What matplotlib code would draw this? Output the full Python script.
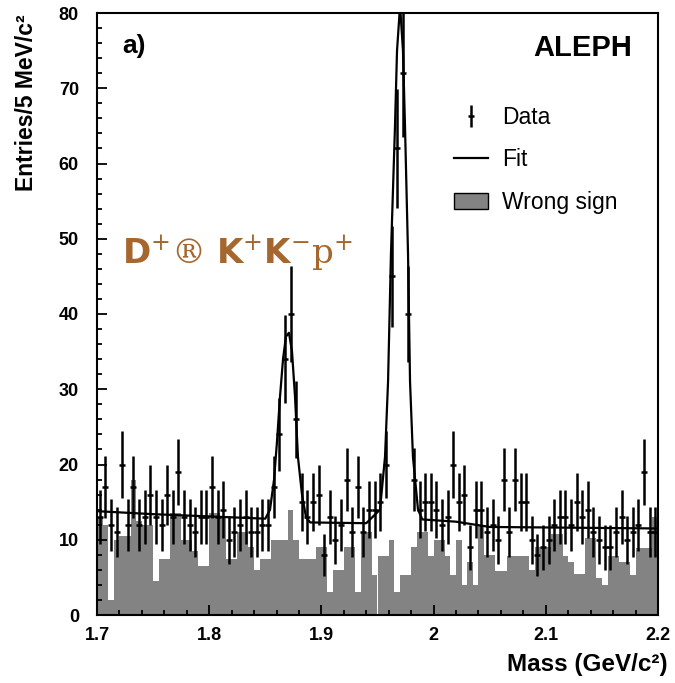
import numpy as np
import matplotlib
matplotlib.use("Agg")
import matplotlib.pyplot as plt
from matplotlib.lines import Line2D
from matplotlib.patches import Patch
from matplotlib.ticker import MultipleLocator, FuncFormatter

plt.rcParams['font.family'] = ['Liberation Sans', 'DejaVu Sans']
plt.rcParams['mathtext.fontset'] = 'custom'
plt.rcParams['mathtext.bf'] = 'DejaVu Sans:bold'
plt.rcParams['mathtext.rm'] = 'DejaVu Serif'

# histogram binning (GeV/c^2)
bin_lo = 1.70
bin_w = 0.005

# right-sign candidates, entries per 5 MeV bin
data_counts = [
    13, 17, 12, 11, 20, 12, 17, 12, 13, 16,
    13, 12, 16, 13, 19, 13, 12, 11, 13, 13,
    17, 13, 14, 10, 11, 12, 13, 11, 11, 12,
    12, 17, 24, 34, 40, 26, 15, 13, 15, 16,
    8, 13, 10, 12, 18, 11, 17, 11, 14, 14,
    15, 20, 45, 62, 72, 40, 18, 14, 15, 15,
    14, 12, 13, 20, 15, 16, 9, 14, 14, 11,
    12, 10, 18, 11, 18, 15, 15, 10, 8, 9,
    10, 12, 13, 13, 12, 15, 13, 14, 11, 10,
    9, 9, 11, 13, 10, 11, 12, 19, 11, 11,
]

# wrong-sign combinations
wrong_sign = [
    13, 12, 2, 10, 10.5, 10.5, 18, 12.5, 12, 12,
    4.5, 7.5, 7.5, 13.5, 13.5, 10, 10, 8.5, 6.5, 6.5,
    13.5, 13.5, 13, 7.5, 7.5, 11, 11, 9, 6, 7.5,
    7.5, 10, 10, 10, 14, 10, 7.5, 7.5, 7.5, 9,
    9, 3, 6, 6, 9, 9, 3, 11, 11, 5.3,
    7.8, 7.8, 10, 3, 5.3, 5.3, 9, 11, 11, 7.8,
    10, 10, 7.8, 5.3, 10, 4, 7, 4, 12, 8,
    8, 5.8, 5.8, 7.8, 7.8, 7.8, 7.8, 6, 9, 9,
    9, 10.8, 10.8, 7.8, 7, 5.5, 5.5, 10.2, 10.2, 4.9,
    4, 7.8, 7.8, 7, 7, 5.3, 8.9, 8.9, 8.9, 13,
]

# fit curve, points
fit_mass = [1.700, 1.750, 1.800, 1.850, 1.8542, 1.8578, 1.8604, 1.8631, 1.8658,
            1.8684, 1.8711, 1.8738, 1.8765, 1.8791, 1.8827, 1.8863, 1.890,
            1.940, 1.9522, 1.9567, 1.9594, 1.9620, 1.9656, 1.9674, 1.9701,
            1.9727, 1.9745, 1.9772, 1.9790, 1.9816, 1.9861, 1.990, 2.020,
            2.050, 2.200]
fit_vals = [13.8, 13.4, 13.1, 12.8, 14, 18, 23, 29, 34,
            37, 37.5, 35, 29, 21, 16, 13, 12.3,
            12.2, 14, 21, 31, 48, 65, 75, 81,
            75, 65, 48, 31, 21, 14, 12.7, 12.4,
            11.7, 11.5]

mass = bin_lo + bin_w * (np.arange(len(data_counts)) + 0.5)
counts = np.array(data_counts, dtype=float)

fig = plt.figure(figsize=(6.75, 6.83), dpi=100)
ax = fig.add_axes([97 / 675, 68 / 683, 561 / 675, 602 / 683])

ax.bar(mass, wrong_sign, width=bin_w, color='#838383', linewidth=0, zorder=1)
ax.plot(fit_mass, fit_vals, color='black', lw=1.6, zorder=2)
eb = ax.errorbar(mass, counts, yerr=np.sqrt(counts), fmt='_', color='black',
                 ms=4, mew=1.8, elinewidth=1.8, capsize=0, zorder=3)

ax.set_xlim(1.7, 2.2)
ax.set_ylim(0, 80)
ax.xaxis.set_major_locator(MultipleLocator(0.1))
ax.xaxis.set_minor_locator(MultipleLocator(0.02))
ax.yaxis.set_major_locator(MultipleLocator(10))
ax.yaxis.set_minor_locator(MultipleLocator(2))
ax.xaxis.set_major_formatter(FuncFormatter(lambda v, p: f'{v:g}'))
ax.tick_params(which='both', direction='in', top=False, right=False, width=1.3)
ax.tick_params(which='major', length=7, labelsize=13)
ax.tick_params(which='minor', length=3.5)
ax.tick_params(axis='x', pad=9)
ax.tick_params(axis='y', pad=13)
for lab in ax.get_xticklabels() + ax.get_yticklabels():
    lab.set_fontweight('bold')
for sp in ax.spines.values():
    sp.set_linewidth(1.5)

fig.text(27 / 675, 1 - 14 / 683, 'Entries/5 MeV/c²', rotation=90, va='top',
         ha='center', fontsize=16.5, fontweight='bold')
fig.text(668 / 675, 1 - 664 / 683, 'Mass (GeV/c²)', ha='right', va='center',
         fontsize=17.5, fontweight='bold')
fig.text(122 / 675, 1 - 46 / 683, 'a)', va='center', fontsize=19, fontweight='bold')
fig.text(632 / 675, 1 - 48 / 683, 'ALEPH', ha='right', va='center',
         fontsize=21, fontweight='bold')
fig.text(122 / 675, 1 - 264 / 683,
         r'$\mathbf{D}^{+}$' + '® ' + r'$\mathbf{K}^{+}\mathbf{K}^{-}\mathrm{p}^{+}$',
         va='baseline', fontsize=24.5, color='#A5672E', family='DejaVu Serif')

handles = [eb, Line2D([], [], color='black', lw=1.6),
           Patch(facecolor='#838383', edgecolor='black', lw=1)]
ax.legend(handles, ['Data', 'Fit', 'Wrong sign'], loc='upper left',
          bbox_to_anchor=(454 / 675, 1 - 106 / 683), bbox_transform=fig.transFigure,
          frameon=False, fontsize=16.5, handlelength=1.5, handletextpad=0.6,
          labelspacing=0.85, borderaxespad=0, borderpad=0)

fig.savefig('out.png', dpi=100)
